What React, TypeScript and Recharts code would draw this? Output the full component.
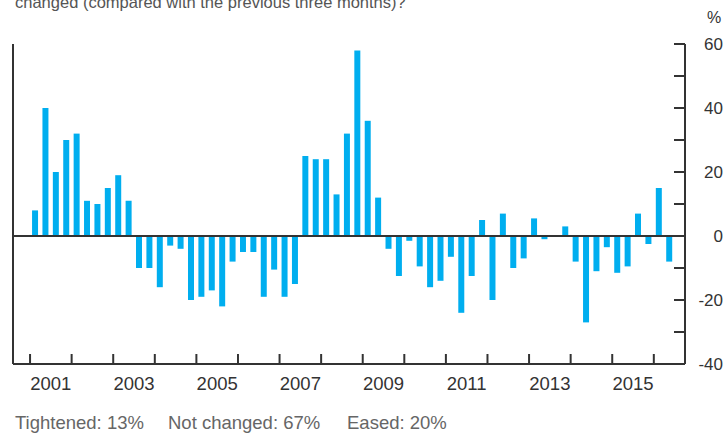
import React from 'react';
import { BarChart, Bar, XAxis, YAxis, ReferenceLine } from 'recharts';

// net % of respondents, quarterly from 2001 Q1
const firstYear = 2001;
const netChange = [
  8, 40, 20, 30, 32, 11, 10, 15, 19, 11,
  -10, -10, -16, -3, -4, -20, -19, -17, -22, -8,
  -5, -5, -19, -10.5, -19, -15, 25, 24, 24, 13,
  32, 58, 36, 12, -4, -12.5, -1.5, -9.5, -16, -14,
  -6.5, -24, -12.5, 5, -20, 7, -10, -7, 5.5, -1,
  0, 3, -8, -27, -11, -3.5, -11.5, -9.5, 7, -2.5,
  15, -8,
];
const quarters = netChange.map((_, i) => `${firstYear + Math.floor(i / 4)} Q${(i % 4) + 1}`);
const yearTicks = [2001, 2002, 2003, 2004, 2005, 2006, 2007, 2008, 2009, 2010, 2011, 2012, 2013, 2014, 2015, 2016];
const yearLabels = [2001, 2003, 2005, 2007, 2009, 2011, 2013, 2015];
const valueTicks = [-40, -30, -20, -10, 0, 10, 20, 30, 40, 50, 60];
const valueLabels = [-40, -20, 0, 20, 40, 60];

const title = 'changed (compared with the previous three months)?';
const shares = ['Tightened: 13%', 'Not changed: 67%', 'Eased: 20%'];

const data = quarters.map((q, i) => ({
  quarter: q,
  t: firstYear + Math.floor(i / 4) + ((i % 4) + 0.5) / 4,
  value: netChange[i],
}));

const W = 725;
const H = 434;
const PLOT_L = 13;
const PLOT_R = 685;
const X_DOMAIN: [number, number] = [2000.59, 2016.75];
const YEAR_PX = (PLOT_R - PLOT_L) / (X_DOMAIN[1] - X_DOMAIN[0]);
const INK = '#333';
const FONT = '"Liberation Sans", Arial, sans-serif';
const shareX = [15, 168, 347];

const XTick = (props: any) => {
  const { x, y, payload } = props;
  const year = payload.value;
  return (
    <g>
      <line x1={x} x2={x} y1={y - 10} y2={y} stroke={INK} strokeWidth={2} />
      {yearLabels.includes(year) && (
        <text x={x + YEAR_PX / 2} y={y + 26} textAnchor="middle" fontSize={18.5} fill={INK} fontFamily={FONT}>
          {year}
        </text>
      )}
    </g>
  );
};

const LeftTick = (props: any) => {
  const { x, y } = props;
  return <line x1={x} x2={x + 12} y1={y} y2={y} stroke={INK} strokeWidth={2} />;
};

const RightTick = (props: any) => {
  const { x, y, payload } = props;
  return (
    <g>
      <line x1={x - 11} x2={x} y1={y} y2={y} stroke={INK} strokeWidth={2} />
      {valueLabels.includes(payload.value) && (
        <text x={723} y={y + 6} textAnchor="end" fontSize={17} fill={INK} fontFamily={FONT}>
          {payload.value}
        </text>
      )}
    </g>
  );
};

export default function App() {
  return (
    <div style={{ position: 'absolute', left: 0, top: 0, width: W, height: H }}>
      <svg width={W} height={H} style={{ position: 'absolute', left: 0, top: 0 }}>
        <text x={15} y={8} fontSize={16.5} fill="#555" fontFamily={FONT}>{title}</text>
        <text x={714} y={23} textAnchor="middle" fontSize={16} fill={INK} fontFamily={FONT}>%</text>
        {shares.map((s, i) => (
          <text key={s} x={shareX[i]} y={429} fontSize={18.5} fill="#666" fontFamily={FONT}>
            {s}
          </text>
        ))}
      </svg>
      <div style={{ position: 'absolute', left: 0, top: 0 }}>
        <BarChart width={W} height={H} data={data} margin={{ top: 44, right: 0, left: PLOT_L, bottom: 40 }}>
          <XAxis
            dataKey="t"
            type="number"
            domain={X_DOMAIN}
            allowDataOverflow
            ticks={yearTicks}
            interval={0}
            height={30}
            tickSize={0}
            tickMargin={0}
            tickLine={false}
            axisLine={{ stroke: INK, strokeWidth: 2 }}
            tick={<XTick />}
          />
          <YAxis
            yAxisId="left"
            orientation="left"
            width={0}
            domain={[-40, 60]}
            allowDataOverflow
            ticks={valueTicks}
            interval={0}
            tickSize={0}
            tickMargin={0}
            tickLine={false}
            axisLine={{ stroke: INK, strokeWidth: 2 }}
            tick={<LeftTick />}
          />
          <YAxis
            yAxisId="right"
            orientation="right"
            width={40}
            domain={[-40, 60]}
            allowDataOverflow
            ticks={valueTicks}
            interval={0}
            tickSize={0}
            tickMargin={0}
            tickLine={false}
            axisLine={{ stroke: INK, strokeWidth: 2 }}
            tick={<RightTick />}
          />
          <ReferenceLine yAxisId="left" x={X_DOMAIN[0]} stroke={INK} strokeWidth={2} />
          <ReferenceLine yAxisId="left" y={0} stroke={INK} strokeWidth={2} />
          <Bar yAxisId="left" dataKey="value" fill="#00AEEF" barSize={6} isAnimationActive={false} />
        </BarChart>
      </div>
    </div>
  );
}
